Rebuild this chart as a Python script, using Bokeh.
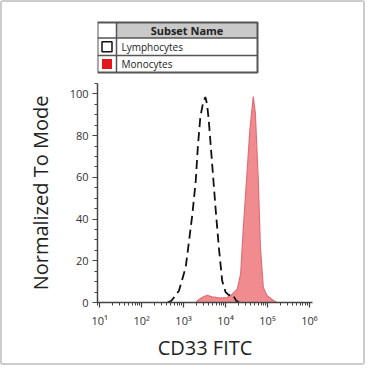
from bokeh.plotting import figure
from bokeh.layouts import column
from bokeh.models import Range1d, FixedTicker
from bokeh.core.properties import value
from bokeh.embed import file_html
from bokeh.resources import INLINE

# ---- data ----
subset_names = ["Lymphocytes", "Monocytes"]
legend_header = "Subset Name"

lymph_x = [417, 513, 776, 1122, 1349, 1622, 1950, 2188, 2512, 2951, 3311, 3631,
           3981, 4786, 5754, 6918, 8318, 10000, 12020, 14790, 17780, 20890]
lymph_y = [0, 0.8, 5.6, 16.8, 29.4, 42.4, 58.3, 74.6, 89, 96.3, 98.5, 95,
           87.4, 66.7, 45.7, 26.5, 10.4, 5, 3.5, 3.8, 1, 0]

mono_x = [1995, 2138, 2818, 3631, 4786, 7586, 10960, 14450, 19050, 22910, 26300,
          31620, 38020, 45710, 51290, 60260, 67610, 79430, 97720, 141300, 169800]
mono_y = [0, 0.8, 2.5, 3.5, 2.7, 2.1, 2.4, 4, 6.4, 13.7, 34.5,
          58.6, 82.7, 98.7, 90.7, 58.6, 26.5, 7.2, 3.2, 0.8, 0]

x_ticks = [10, 100, 1000, 10000, 100000, 1000000]
x_tick_labels = ["10¹", "10²", "10³", "10⁴", "10⁵", "10⁶"]
y_ticks = [0, 20, 40, 60, 80, 100]

x_label = "CD33 FITC"
y_label = "Normalized To Mode"

FONT = "Open Sans"
TXT = "#333333"
AX = "#444444"

W = 361
LEFT, RIGHT = 95, 51
LH = 76
MH = W - LH

# ---- legend table figure (frame aligned with main plot; x in canvas px) ----
leg = figure(width=W, height=LH, x_range=Range1d(LEFT, W - RIGHT), y_range=Range1d(LH, 0),
             output_backend="svg", toolbar_location=None,
             min_border_left=LEFT, min_border_right=RIGHT,
             min_border_top=0, min_border_bottom=0)
leg.axis.visible = False
leg.grid.visible = False
leg.outline_line_color = None
leg.background_fill_color = "white"
leg.border_fill_color = "white"

tx0, tx1, tcol = 95, 255, 114
ty0 = 20
row_h = [15.5, 17.5, 17]
rows_top = [ty0, ty0 + row_h[0], ty0 + row_h[0] + row_h[1]]
ty1 = ty0 + sum(row_h)

leg.quad(left=[tcol], right=[tx1], top=[ty0], bottom=[rows_top[1]],
         fill_color="#c9c9c9", line_color=None)
leg.segment(x0=[tx0, tx0], x1=[tx1, tx1], y0=[rows_top[1], rows_top[2]],
            y1=[rows_top[1], rows_top[2]], line_color="#555555", line_width=1.5)
leg.segment(x0=[tcol], x1=[tcol], y0=[ty0], y1=[ty1], line_color="#555555", line_width=1.5)
leg.quad(left=[tx0], right=[tx1], top=[ty0], bottom=[ty1],
         fill_color=None, line_color="#555555", line_width=2)

leg.text(x=[(tcol + tx1) / 2], y=[ty0 + row_h[0] / 2], text=[legend_header],
         text_font=value(FONT), text_font_size="11px", text_font_style="bold",
         text_align="center", text_baseline="middle", text_color="#222222")

sq_cx = (tx0 + tcol) / 2
cy = [rows_top[1] + row_h[1] / 2, rows_top[2] + row_h[2] / 2]
leg.rect(x=[sq_cx], y=[cy[0]], width=10, height=10, fill_color="white",
         line_color="#111111", line_width=1.5)
leg.rect(x=[sq_cx], y=[cy[1]], width=10, height=10, fill_color="#e8141c",
         line_color=None)
leg.text(x=[tcol + 5] * 2, y=cy, text=subset_names,
         text_font=value(FONT), text_font_size="10px",
         text_align="left", text_baseline="middle", text_color="#222222")

# ---- main histogram figure ----
p = figure(width=W, height=MH, x_axis_type="log",
           x_range=Range1d(8.9, 1.18e6), y_range=Range1d(0, 105),
           output_backend="svg", toolbar_location=None,
           min_border_left=LEFT, min_border_right=RIGHT,
           min_border_top=5, min_border_bottom=61)
p.grid.visible = False
p.outline_line_color = None
p.background_fill_color = "white"
p.border_fill_color = "white"

p.varea(x=mono_x, y1=[0] * len(mono_x), y2=mono_y, fill_color="#f08c90", fill_alpha=1.0)
p.line(mono_x, mono_y, line_color="#e26d76", line_width=1.2)
p.line(lymph_x, lymph_y, line_color="#111111", line_width=1.8, line_dash="9 5")

xminor = [m * 10 ** d for d in range(0, 7) for m in range(2, 10)]
p.xaxis.ticker = FixedTicker(ticks=x_ticks, minor_ticks=xminor)
p.xaxis.major_label_overrides = {t: l for t, l in zip(x_ticks, x_tick_labels)}
p.yaxis.ticker = FixedTicker(ticks=y_ticks, minor_ticks=list(range(0, 106, 5)))

for ax in (p.xaxis, p.yaxis):
    ax.axis_line_color = AX
    ax.axis_line_width = 1.5
    ax.major_tick_line_color = AX
    ax.minor_tick_line_color = AX
    ax.major_tick_line_width = 1.2
    ax.minor_tick_line_width = 1.0
    ax.major_tick_in = 0
    ax.major_tick_out = 5
    ax.minor_tick_in = 0
    ax.minor_tick_out = 3
    ax.major_label_text_font = FONT
    ax.major_label_text_font_size = "11px"
    ax.major_label_text_color = TXT
    ax.axis_label_text_font = FONT
    ax.axis_label_text_font_size = "20px"
    ax.axis_label_text_font_style = "normal"
    ax.axis_label_text_color = "#222222"

p.xaxis.axis_label = x_label
p.yaxis.axis_label = y_label
p.xaxis.major_label_standoff = 5
p.xaxis.axis_label_standoff = 3
p.yaxis.major_label_standoff = 4
p.yaxis.axis_label_standoff = 13

layout = column(leg, p, spacing=0,
                styles={"border": "2px solid #cccccc", "border-radius": "3px"})

open("out.html", "w").write(file_html(layout, INLINE))
